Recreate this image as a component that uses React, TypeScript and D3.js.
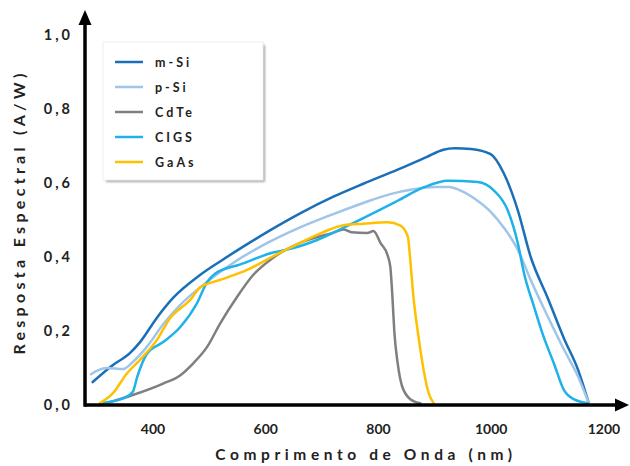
import React from "react";
import * as d3 from "d3";

type Pt = [number, number];

// [comprimento de onda (nm), resposta (A/W)]
const mSi: Pt[] = [
  [293, 0.062], [329, 0.108], [359, 0.14], [377, 0.17], [407, 0.236], [436, 0.29],
  [484, 0.352], [519, 0.388], [560, 0.428], [603, 0.468], [661, 0.518], [720, 0.563],
  [773, 0.598], [834, 0.636], [885, 0.67], [915, 0.69], [935, 0.694], [964, 0.692],
  [999, 0.678], [1022, 0.627], [1047, 0.527], [1070, 0.4], [1100, 0.29], [1129, 0.18],
  [1154, 0.095], [1173, 0.005],
];
const pSi: Pt[] = [
  [290, 0.083], [303, 0.094], [318, 0.1], [347, 0.097], [364, 0.116], [389, 0.157],
  [418, 0.218], [448, 0.27], [496, 0.333], [542, 0.384], [603, 0.438], [661, 0.48],
  [720, 0.516], [773, 0.546], [821, 0.57], [862, 0.583], [900, 0.589], [925, 0.589],
  [948, 0.578], [972, 0.556], [999, 0.522], [1022, 0.48], [1047, 0.42], [1070, 0.338],
  [1100, 0.24], [1129, 0.15], [1154, 0.077], [1173, 0.005],
];
const cdTe: Pt[] = [
  [318, 0.005], [364, 0.027], [418, 0.058], [448, 0.08], [471, 0.112], [496, 0.157],
  [519, 0.22], [549, 0.292], [578, 0.352], [613, 0.398], [661, 0.438], [720, 0.466],
  [738, 0.474], [752, 0.467], [780, 0.465], [791, 0.47], [804, 0.437], [816, 0.405],
  [821, 0.373], [825, 0.284], [828, 0.2], [834, 0.113], [842, 0.05], [857, 0.015],
  [874, 0.005],
];
const cigs: Pt[] = [
  [306, 0.005], [347, 0.018], [364, 0.035], [372, 0.076], [389, 0.138], [418, 0.17],
  [448, 0.21], [478, 0.275], [496, 0.332], [510, 0.355], [555, 0.38], [613, 0.412],
  [649, 0.424], [691, 0.446], [750, 0.488], [834, 0.552], [880, 0.588], [923, 0.606],
  [976, 0.603], [1004, 0.581], [1029, 0.527], [1047, 0.438], [1058, 0.357], [1076, 0.265],
  [1093, 0.184], [1111, 0.113], [1129, 0.04], [1147, 0.015], [1171, 0.005],
];
const gaAs: Pt[] = [
  [306, 0.005], [329, 0.032], [354, 0.086], [377, 0.122], [407, 0.176], [430, 0.234],
  [466, 0.284], [484, 0.318], [519, 0.338], [567, 0.365], [613, 0.402], [661, 0.438],
  [700, 0.466], [738, 0.486], [773, 0.49], [816, 0.494], [839, 0.485], [852, 0.455],
  [857, 0.38], [862, 0.292], [871, 0.184], [880, 0.095], [889, 0.032], [898, 0.005],
];

const seriesNames = ["m-Si", "p-Si", "CdTe", "CIGS", "GaAs"];
const seriesData = [mSi, pSi, cdTe, cigs, gaAs];
const seriesColors = ["#1a70b8", "#9fc5e8", "#7f7f7f", "#1eb1ea", "#ffc000"];
const xTicks = [400, 600, 800, 1000, 1200];
const yTicks = [0, 0.2, 0.4, 0.6, 0.8, 1.0];

const W = 630;
const H = 466;
const font = "Lato, 'DejaVu Sans', sans-serif";

const App = () => {
  const x = d3.scaleLinear().domain([400, 1200]).range([153, 604]);
  const y = d3.scaleLinear().domain([0, 1]).range([405, 35]);
  const line = d3
    .line<Pt>()
    .curve(d3.curveMonotoneX)
    .x(d => x(d[0]))
    .y(d => y(d[1]));

  const x0 = 85;
  const y0 = y(0);

  return (
    <svg width={W} height={H} style={{ position: "absolute", left: 0, top: 0, background: "#fff" }}>
      <defs>
        <filter id="shadow" x="-10%" y="-10%" width="130%" height="130%">
          <feGaussianBlur stdDeviation="1.2" />
        </filter>
      </defs>

      {/* legenda */}
      <rect x={106} y={45} width={159} height={137} fill="#a6a6a6" filter="url(#shadow)" />
      <rect x={103} y={42} width={160} height={138} fill="#fff" stroke="#f0f0f0" />
      {seriesNames.map((name, i) => {
        const ly = 62 + i * 25;
        return (
          <g key={name}>
            <line x1={115} x2={143} y1={ly} y2={ly} stroke={seriesColors[i]} strokeWidth={2.5} />
            <text x={155} y={ly + 4.5} fontFamily={font} fontWeight={700} fontSize={12.5}
              letterSpacing={3} fill="#222">
              {name}
            </text>
          </g>
        );
      })}

      {/* curvas */}
      {seriesData.map((d, i) => (
        <path key={seriesNames[i]} d={line(d) ?? ""} fill="none" stroke={seriesColors[i]}
          strokeWidth={2.5} strokeLinejoin="round" strokeLinecap="round" />
      ))}

      {/* eixos */}
      <line x1={x0} x2={617} y1={y0} y2={y0} stroke="#000" strokeWidth={3.5} />
      <line x1={x0} x2={x0} y1={y0 + 1.7} y2={22} stroke="#000" strokeWidth={3.5} />
      <path d={`M${629},${y0} L${615},${y0 - 6.5} L${615},${y0 + 6.5} Z`} fill="#000" />
      <path d={`M${x0},${10} L${x0 - 6.5},${25} L${x0 + 6.5},${25} Z`} fill="#000" />

      {yTicks.map(t => (
        <text key={t} x={73} y={y(t) + 5} textAnchor="end" fontFamily={font} fontWeight={700}
          fontSize={14.5} letterSpacing={3} fill="#222">
          {d3.format(".1f")(t).replace(".", ",")}
        </text>
      ))}
      {xTicks.map(t => (
        <text key={t} x={x(t)} y={434} textAnchor="middle" fontFamily={font} fontWeight={700}
          fontSize={14} fill="#222">
          {t}
        </text>
      ))}

      <text x={366} y={460} textAnchor="middle" fontFamily={font} fontWeight={700} fontSize={15.5}
        letterSpacing={4.6} fill="#222">
        Comprimento de Onda (nm)
      </text>
      <text transform={`translate(25,212) rotate(-90)`} textAnchor="middle" fontFamily={font}
        fontWeight={700} fontSize={16} letterSpacing={4.3} fill="#222">
        Resposta Espectral (A/W)
      </text>
    </svg>
  );
};

export default App;
